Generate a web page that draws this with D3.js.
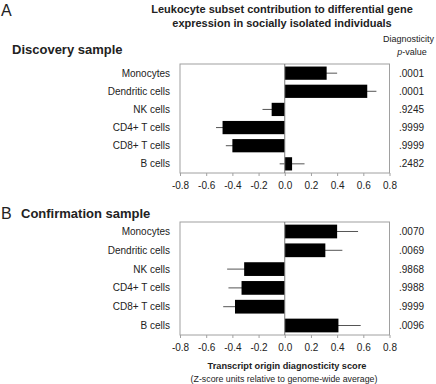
<!DOCTYPE html>
<html>
<head>
<meta charset="utf-8">
<script src="https://cdn.jsdelivr.net/npm/d3@7"></script>
<style>
  body { margin: 0; background: #fff; }
  text { font-family: "Liberation Sans", Arial, sans-serif; fill: #222; }
</style>
</head>
<body>
<div id="chart-area"></div>
<script>
// Datos
var cells = ["Monocytes", "Dendritic cells", "NK cells", "CD4+ T cells", "CD8+ T cells", "B cells"];
var discoveryScore = [0.32, 0.63, -0.10, -0.475, -0.40, 0.056];
var discoveryErr   = [0.08, 0.07, 0.07, 0.05, 0.05, 0.095];
var discoveryP     = [".0001", ".0001", ".9245", ".9999", ".9999", ".2482"];
var confirmScore = [0.40, 0.31, -0.31, -0.33, -0.38, 0.41];
var confirmErr   = [0.16, 0.13, 0.13, 0.10, 0.09, 0.17];
var confirmP     = [".0070", ".0069", ".9868", ".9988", ".9999", ".0096"];
var ticks = [-0.8, -0.6, -0.4, -0.2, 0.0, 0.2, 0.4, 0.6, 0.8];

var svg = d3.select("#chart-area").append("svg")
    .attr("width", 436)
    .attr("height", 384);

var x = d3.scaleLinear().domain([-0.8, 0.8]).range([180, 389.5]);

function panel(top, bottom, scores, errs, pvals) {
    var y = d3.scaleBand().domain(cells).range([top, bottom]).paddingInner(0.27).paddingOuter(0.14);

    // Caja
    svg.append("rect")
        .attr("x", x(-0.8)).attr("y", top)
        .attr("width", x(0.8) - x(-0.8)).attr("height", bottom - top)
        .attr("fill", "none").attr("stroke", "#a0a0a0").attr("stroke-width", 1);

    // Eje X
    var ax = svg.append("g")
        .attr("transform", "translate(0," + bottom + ")")
        .call(d3.axisBottom(x).tickValues(ticks).tickSize(3).tickFormat(d => d.toFixed(1)));
    ax.select(".domain").remove();
    ax.selectAll("line").attr("stroke", "#a0a0a0");
    ax.selectAll("text").attr("font-size", "10px").attr("fill", "#222").attr("dy", "1.0em")
        .style("font-family", "Liberation Sans, Arial, sans-serif");

    // Barras de error
    svg.selectAll(null).data(cells).enter().append("line")
        .attr("x1", (d, i) => x(scores[i] - errs[i]))
        .attr("x2", (d, i) => x(scores[i] + errs[i]))
        .attr("y1", d => y(d) + y.bandwidth() / 2)
        .attr("y2", d => y(d) + y.bandwidth() / 2)
        .attr("stroke", "#555").attr("stroke-width", 1);

    // Barras
    svg.selectAll(null).data(cells).enter().append("rect")
        .attr("x", (d, i) => x(Math.min(0, scores[i])))
        .attr("y", d => y(d))
        .attr("width", (d, i) => Math.abs(x(scores[i]) - x(0)))
        .attr("height", y.bandwidth())
        .attr("fill", "#000");

    // Linea cero
    svg.append("line")
        .attr("x1", x(0)).attr("x2", x(0))
        .attr("y1", top).attr("y2", bottom)
        .attr("stroke", "#777").attr("stroke-width", 1);

    // Etiquetas categorias
    svg.selectAll(null).data(cells).enter().append("text")
        .attr("x", 170)
        .attr("y", d => y(d) + y.bandwidth() / 2)
        .attr("dy", "0.35em")
        .attr("text-anchor", "end")
        .attr("font-size", "10px")
        .text(d => d);

    // p-valores
    svg.selectAll(null).data(cells).enter().append("text")
        .attr("x", 399)
        .attr("y", d => y(d) + y.bandwidth() / 2)
        .attr("dy", "0.35em")
        .attr("font-size", "10px")
        .text((d, i) => pvals[i]);
}

panel(64, 173, discoveryScore, discoveryErr, discoveryP);
panel(222, 335, confirmScore, confirmErr, confirmP);

// Titulos
svg.append("text").attr("x", 1).attr("y", 16).attr("font-size", "16px").text("A");
svg.append("text").attr("x", 1).attr("y", 219).attr("font-size", "16px").text("B");

svg.append("text").attr("x", 282).attr("y", 13).attr("text-anchor", "middle")
    .attr("font-size", "11px").attr("font-weight", "bold")
    .text("Leukocyte subset contribution to differential gene");
svg.append("text").attr("x", 282).attr("y", 27).attr("text-anchor", "middle")
    .attr("font-size", "11px").attr("font-weight", "bold")
    .text("expression in socially isolated individuals");

svg.append("text").attr("x", 12).attr("y", 54).attr("font-size", "13px").attr("font-weight", "bold")
    .text("Discovery sample");
svg.append("text").attr("x", 21).attr("y", 218).attr("font-size", "13px").attr("font-weight", "bold")
    .text("Confirmation sample");

svg.append("text").attr("x", 434).attr("y", 42).attr("text-anchor", "end").attr("font-size", "9px")
    .text("Diagnosticity");
var pv = svg.append("text").attr("x", 412).attr("y", 55).attr("text-anchor", "middle").attr("font-size", "9px");
pv.append("tspan").attr("font-style", "italic").text("p");
pv.append("tspan").text("-value");

svg.append("text").attr("x", 287).attr("y", 369).attr("text-anchor", "middle")
    .attr("font-size", "9.2px").attr("font-weight", "bold")
    .text("Transcript origin diagnosticity score");
svg.append("text").attr("x", 284).attr("y", 382).attr("text-anchor", "middle")
    .attr("font-size", "8.8px")
    .text("(Z-score units relative to genome-wide average)");
</script>
</body>
</html>
